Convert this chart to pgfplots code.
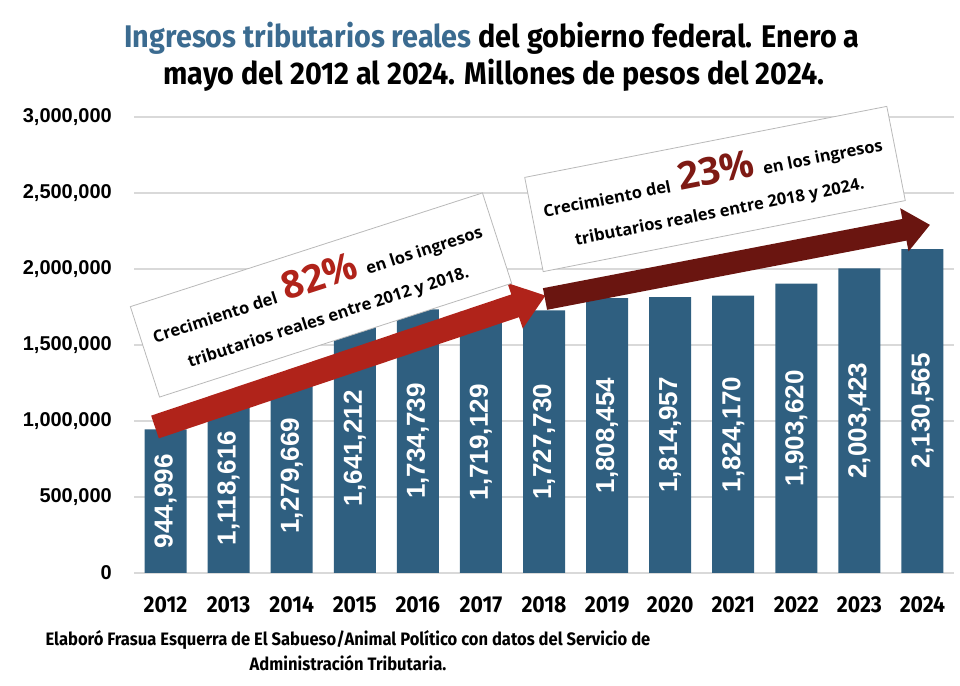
\documentclass[border=0pt]{standalone}
\usepackage{pgfplots}
\pgfplotsset{compat=1.18}
\usepackage{pgfplotstable}
\usepackage{fontspec}
\setmainfont{Liberation Sans}
\newfontfamily\lsbold[UprightFont={* Bold}]{Liberation Sans}
\newfontfamily\condfont[FakeStretch=0.92]{Fira Sans}
\newfontfamily\boxfont{Open Sans}
\definecolor{barblue}{HTML}{2F5F80}
\definecolor{titleblue}{HTML}{3B6B90}
\definecolor{redA}{HTML}{B0231A}
\definecolor{redB}{HTML}{6A1510}
\definecolor{redC}{HTML}{7E1A14}
\definecolor{gridgray}{HTML}{D9D9D9}

\pgfplotstableread{
x v label
0 944996 {944,996}
1 1118616 {1,118,616}
2 1279669 {1,279,669}
3 1641212 {1,641,212}
4 1734739 {1,734,739}
5 1719129 {1,719,129}
6 1727730 {1,727,730}
7 1808454 {1,808,454}
8 1814957 {1,814,957}
9 1824170 {1,824,170}
10 1903620 {1,903,620}
11 2003423 {2,003,423}
12 2130565 {2,130,565}
}\datatable

\begin{document}
\begin{tikzpicture}[x=1pt,y=1pt]
\useasboundingbox (0,0) rectangle (960,685);
\begin{axis}[at={(134pt,112pt)}, anchor=south west, scale only axis,
  width=820pt, height=456pt,
  xmin=-0.5, xmax=12.5, ymin=0, ymax=3000000,
  scaled y ticks=false,
  axis line style={draw=none}, major tick length=0pt,
  ymajorgrids, grid style={gridgray, line width=1.2pt},
  ytick={0,500000,1000000,1500000,2000000,2500000,3000000},
  yticklabels={0,{500,000},{1,000,000},{1,500,000},{2,000,000},{2,500,000},{3,000,000}},
  yticklabel style={font=\fontsize{20}{20}\selectfont\bfseries, anchor=east, inner sep=0pt, xshift=-22pt},
  xtick={0,1,2,3,4,5,6,7,8,9,10,11,12},
  xticklabels={2012,2013,2014,2015,2016,2017,2018,2019,2020,2021,2022,2023,2024},
  xticklabel style={font=\condfont\bfseries\fontsize{23}{23}\selectfont, anchor=base, inner sep=0pt, yshift=-39pt},
  clip=false,
]
\addplot[ybar, bar width=42pt, fill=barblue, draw=none] table[x=x, y=v]{\datatable};
\addplot[draw=none, mark=none, nodes near coords={\pgfplotspointmeta}, point meta=explicit symbolic,
  every node near coord/.append style={rotate=90, anchor=center, text=white, inner sep=0pt,
  font=\lsbold\fontsize{26}{26}\selectfont}]
  table[x=x, y expr=\thisrow{v}/2, meta=label]{\datatable};
\end{axis}

% arrow 1
\begin{scope}[shift={(155,258)}, rotate=18.6]
\fill[redA] (0,-12) -- (380,-12) -- (380,-24) -- (412,0) -- (380,24) -- (380,12) -- (0,12) -- cycle;
\end{scope}
% arrow 2
\begin{scope}[shift={(545,386)}, rotate=10.9]
\fill[redB] (0,-11) -- (366,-11) -- (366,-22) -- (392,0) -- (366,22) -- (366,11) -- (0,11) -- cycle;
\end{scope}

% boxes
\node[draw=gray!55, line width=0.8pt, fill=white, rotate=17.9, minimum width=370pt, minimum height=95pt,
  align=center, inner sep=0pt, font=\boxfont\bfseries\fontsize{16.5}{34}\selectfont] at (321,390)
  {Crecimiento del\enspace{\color{redA}\fontsize{38}{38}\selectfont 82\%}\enspace en los ingresos\\tributarios reales entre 2012 y 2018.};
\node[draw=gray!55, line width=0.8pt, fill=white, rotate=11.1, minimum width=369pt, minimum height=96pt,
  align=center, inner sep=0pt, font=\boxfont\bfseries\fontsize{16.5}{34}\selectfont] at (715,496)
  {Crecimiento del\enspace{\color{redC}\fontsize{38}{38}\selectfont 23\%}\enspace en los ingresos\\tributarios reales entre 2018 y 2024.};

% title
\node[anchor=base, font=\condfont\bfseries\fontsize{31.3}{31.3}\selectfont] at (492,637)
  {{\color{titleblue}Ingresos tributarios reales} del gobierno federal. Enero a};
\node[anchor=base, font=\condfont\bfseries\fontsize{31.3}{31.3}\selectfont] at (494,600)
  {mayo del 2012 al 2024. Millones de pesos del 2024.};

% footer
\node[anchor=base, font=\condfont\bfseries\fontsize{18}{18}\selectfont] at (348,40)
  {Elaboró Frasua Esquerra de El Sabueso/Animal Político con datos del Servicio de};
\node[anchor=base, font=\condfont\bfseries\fontsize{18}{18}\selectfont] at (348,15)
  {Administración Tributaria.};
\end{tikzpicture}
\end{document}
